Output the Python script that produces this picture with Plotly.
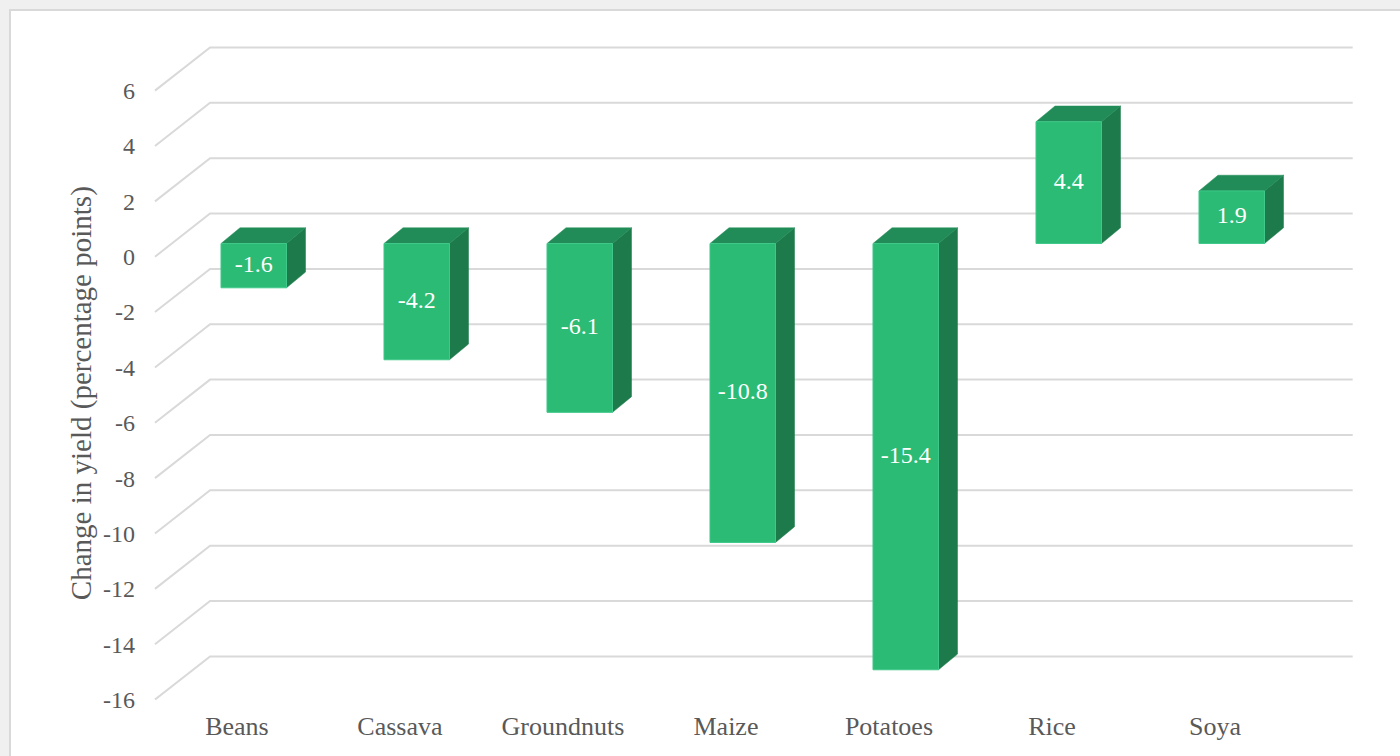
import plotly.graph_objects as go

# Yield change by crop (percentage points)
crops = ["Beans", "Cassava", "Groundnuts", "Maize", "Potatoes", "Rice", "Soya"]
changes = [-1.6, -4.2, -6.1, -10.8, -15.4, 4.4, 1.9]
y_ticks = list(range(-16, 8, 2))

# pseudo-3D geometry (category units on x, value units on y)
BAR_W = 0.402        # width of a bar's front face
DEPTH_X = 0.1166     # receding offset of a bar's depth
DEPTH_Y = 0.567
FRONT_DY = -0.477    # front edge of the side wall relative to the bar face plane
BACK_DY = 1.083      # back wall relative to the bar face plane
FRONT_X = -0.606
BACK_X = -0.268
RIGHT_X = 6.742
LABEL_DX = -0.103    # category labels sit on the front plane

FRONT_COL = "#2bbb74"
TOP_COL = "#218c57"
SIDE_COL = "#1c7a4b"
GRID_COL = "#d9d9d9"
TEXT_COL = "#595959"
FONT = "Liberation Serif"

fig = go.Figure()

# gridlines: a receding diagonal on the side wall, then along the back wall
for t in y_ticks:
    fig.add_trace(go.Scatter(
        x=[FRONT_X, BACK_X, RIGHT_X],
        y=[t + FRONT_DY, t + BACK_DY, t + BACK_DY],
        mode="lines", line=dict(color=GRID_COL, width=2),
        hoverinfo="skip", showlegend=False))

# bars as three filled faces: side, top, front
for i, v in enumerate(changes):
    xl, xr = i - BAR_W / 2, i + BAR_W / 2
    top = max(v, 0)
    fig.add_trace(go.Scatter(
        x=[xr, xr + DEPTH_X, xr + DEPTH_X, xr, xr],
        y=[0, DEPTH_Y, v + DEPTH_Y, v, 0],
        mode="lines", fill="toself", fillcolor=SIDE_COL,
        line=dict(color=SIDE_COL, width=0.5),
        hoverinfo="skip", showlegend=False))
    fig.add_trace(go.Scatter(
        x=[xl, xr, xr + DEPTH_X, xl + DEPTH_X, xl],
        y=[top, top, top + DEPTH_Y, top + DEPTH_Y, top],
        mode="lines", fill="toself", fillcolor=TOP_COL,
        line=dict(color=TOP_COL, width=0.5),
        hoverinfo="skip", showlegend=False))
    fig.add_trace(go.Scatter(
        x=[xl, xr, xr, xl, xl],
        y=[0, 0, v, v, 0],
        mode="lines", fill="toself", fillcolor=FRONT_COL,
        line=dict(color="#3fc88a", width=1),
        hoverinfo="skip", showlegend=False))

# value labels centred on each front face
fig.add_trace(go.Scatter(
    x=list(range(len(crops))), y=[v / 2 for v in changes],
    text=[f"{v:.1f}" for v in changes], mode="text",
    textfont=dict(family=FONT, size=24, color="white"),
    hoverinfo="skip", showlegend=False))

fig.update_layout(
    width=1400, height=756,
    margin=dict(l=150, r=40, t=40, b=56),
    paper_bgcolor="#f0f0f0",
    plot_bgcolor="rgba(0,0,0,0)",
    font=dict(family=FONT, color=TEXT_COL),
    xaxis=dict(
        range=[-0.6365, 6.7868], showgrid=False, zeroline=False,
        showline=False, ticks="",
        tickvals=[i + LABEL_DX for i in range(len(crops))],
        ticktext=crops, tickfont=dict(size=26, color=TEXT_COL),
        ticklabelstandoff=8),
    yaxis=dict(
        range=[-16.492, 7.352], showgrid=False, zeroline=False,
        showline=False, ticks="",
        tickvals=[t + FRONT_DY for t in y_ticks],
        ticktext=[str(t) for t in y_ticks],
        tickfont=dict(size=24, color=TEXT_COL),
        ticklabelstandoff=14),
    annotations=[dict(text="Change in yield (percentage points)",
                      xref="paper", yref="paper", x=-0.057, y=0.465,
                      xanchor="center", yanchor="middle",
                      textangle=-90, showarrow=False,
                      font=dict(family=FONT, size=29, color=TEXT_COL))],
    shapes=[dict(type="rect", xref="paper", yref="paper",
                 x0=-0.1157, x1=1.05, y0=-0.11, y1=1.0455,
                 fillcolor="white", line=dict(color="#d9d9d9", width=2),
                 layer="below")],
)

fig.write_html("out.html")
